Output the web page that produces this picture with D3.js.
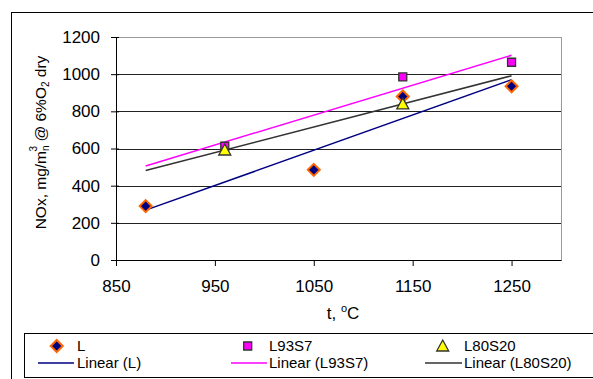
<!DOCTYPE html>
<html>
<head>
<meta charset="utf-8">
<script src="https://cdn.jsdelivr.net/npm/d3@7"></script>
<style>
  body { margin: 0; background: #fff; }
  svg { display: block; font-family: "Liberation Sans", Arial, sans-serif; }
</style>
</head>
<body>
<svg id="drawing_region"></svg>
<script>
// data
const temps_L = [ 880, 1050, 1140, 1250 ];
const nox_L = [ 290, 485, 880, 935 ];
const temps_L93S7 = [ 960, 1140, 1250 ];
const nox_L93S7 = [ 612, 985, 1064 ];
const temps_L80S20 = [ 960, 1140 ];
const nox_L80S20 = [ 592, 840 ];
const trend_range = [ 880, 1250 ];
const x_ticks = [ 850, 950, 1050, 1150, 1250 ];
const y_ticks = [ 0, 200, 400, 600, 800, 1000, 1200 ];

const series = [
    { name: 'L', xs: temps_L, ys: nox_L, marker: 'diamond', fill: '#000080', stroke: '#ff6600', line: '#000080' },
    { name: 'L93S7', xs: temps_L93S7, ys: nox_L93S7, marker: 'square', fill: '#ff00ff', stroke: '#333', line: '#ff00ff' },
    { name: 'L80S20', xs: temps_L80S20, ys: nox_L80S20, marker: 'triangle', fill: '#ffff00', stroke: '#333', line: '#333333' }
];

// least squares fit, like the spreadsheet trendline
function linfit( xs, ys ) {
    const mx = d3.mean( xs ), my = d3.mean( ys );
    const sxy = d3.sum( xs, ( x, i ) => ( x - mx ) * ( ys[i] - my ) );
    const sxx = d3.sum( xs, x => ( x - mx ) * ( x - mx ) );
    const b = sxy / sxx;
    return x => my + b * ( x - mx );
}

const width = 593, height = 379;
const margin = { top: 37, left: 116, right: 32, bottom: 119 };
const inner_width = width - margin.left - margin.right;
const inner_height = height - margin.top - margin.bottom;
const font_size = 17;

const svg = d3.select( '#drawing_region' )
    .attr( 'width', width )
    .attr( 'height', height );

// outer chart border (runs off the right and bottom)
svg.append( 'rect' )
    .attr( 'x', 11.5 ).attr( 'y', 12.5 )
    .attr( 'width', 600 ).attr( 'height', 400 )
    .attr( 'fill', 'none' ).attr( 'stroke', '#000' );

const chart = svg.append( 'g' )
    .attr( 'transform', `translate(${margin.left}, ${margin.top})` );

const xscale = d3.scaleLinear().domain( [ 850, 1300 ] ).range( [ 0, inner_width ] );
const yscale = d3.scaleLinear().domain( [ 0, 1200 ] ).range( [ inner_height, 0 ] );

// plot area frame
chart.append( 'rect' )
    .attr( 'x', 0.5 ).attr( 'y', 0.5 )
    .attr( 'width', inner_width ).attr( 'height', inner_height )
    .attr( 'fill', 'none' ).attr( 'stroke', '#999' );

// gridlines
chart.append( 'g' )
    .selectAll( 'line' )
    .data( y_ticks.filter( d => d > 0 && d < 1200 ) )
    .join( 'line' )
    .attr( 'x1', 0 ).attr( 'x2', inner_width )
    .attr( 'y1', d => Math.round( yscale( d ) ) + 0.5 )
    .attr( 'y2', d => Math.round( yscale( d ) ) + 0.5 )
    .attr( 'stroke', '#222' );

const xaxis = d3.axisBottom( xscale ).tickValues( x_ticks ).tickFormat( d3.format( 'd' ) )
    .tickSize( 6 ).tickSizeOuter( 0 ).tickPadding( 14 );
const yaxis = d3.axisLeft( yscale ).tickValues( y_ticks ).tickFormat( d3.format( 'd' ) )
    .tickSize( 5 ).tickSizeOuter( 0 ).tickPadding( 11 );

const xg = chart.append( 'g' )
    .attr( 'transform', `translate(0, ${inner_height})` )
    .call( xaxis );
const yg = chart.append( 'g' ).call( yaxis );

// value-axis ticks cross the axis line
yg.selectAll( '.tick line' ).attr( 'x1', 3 );

[ xg, yg ].forEach( g => {
    g.select( '.domain' ).attr( 'stroke', '#000' );
    g.selectAll( '.tick line' ).attr( 'stroke', '#000' );
    g.selectAll( 'text' )
        .attr( 'font-size', font_size )
        .attr( 'font-family', '"Liberation Sans", Arial, sans-serif' )
        .attr( 'fill', '#000' );
} );

// trend lines
series.forEach( s => {
    const f = linfit( s.xs, s.ys );
    chart.append( 'line' )
        .attr( 'x1', xscale( trend_range[0] ) ).attr( 'y1', yscale( f( trend_range[0] ) ) )
        .attr( 'x2', xscale( trend_range[1] ) ).attr( 'y2', yscale( f( trend_range[1] ) ) )
        .attr( 'stroke', s.line ).attr( 'stroke-width', 1.5 );
} );

function marker_path( kind ) {
    if ( kind === 'diamond' ) return 'M0,-6L6,0L0,6L-6,0Z';
    if ( kind === 'square' ) return 'M-4,-4H4V4H-4Z';
    return 'M0,-6L6,5L-6,5Z';
}

// markers
series.forEach( s => {
    chart.append( 'g' )
        .selectAll( 'path' )
        .data( s.xs.map( ( x, i ) => ( { x: x, y: s.ys[i] } ) ) )
        .join( 'path' )
        .attr( 'transform', d => `translate(${xscale( d.x )}, ${yscale( d.y )})` )
        .attr( 'd', marker_path( s.marker ) )
        .attr( 'fill', s.fill )
        .attr( 'stroke', s.stroke )
        .attr( 'stroke-width', s.marker === 'diamond' ? 2 : 1.3 );
} );

// axis titles
const xt = svg.append( 'text' )
    .attr( 'x', 343 ).attr( 'y', 319 )
    .attr( 'text-anchor', 'middle' )
    .attr( 'font-size', font_size );
xt.append( 'tspan' ).text( 't, ' );
xt.append( 'tspan' ).attr( 'font-size', 11 ).attr( 'dy', -7 ).text( 'o' );
xt.append( 'tspan' ).attr( 'dy', 7 ).text( 'C' );

const yt = svg.append( 'text' )
    .attr( 'transform', 'translate(46, 142.5) rotate(-90)' )
    .attr( 'text-anchor', 'middle' )
    .attr( 'font-size', 15.5 );
yt.append( 'tspan' ).text( 'NOx, mg/m' );
yt.append( 'tspan' ).attr( 'font-size', 10 ).attr( 'dy', 3 ).text( 'n' );
yt.append( 'tspan' ).attr( 'font-size', 10 ).attr( 'dy', -12 ).attr( 'dx', -6 ).text( '3' );
yt.append( 'tspan' ).attr( 'dy', 9 ).text( ' @ 6%O' );
yt.append( 'tspan' ).attr( 'font-size', 10 ).attr( 'dy', 3 ).text( '2' );
yt.append( 'tspan' ).attr( 'dy', -3 ).text( ' dry' );

// legend
const legend = svg.append( 'g' );
legend.append( 'rect' )
    .attr( 'x', 24.5 ).attr( 'y', 333.5 )
    .attr( 'width', 600 ).attr( 'height', 44 )
    .attr( 'fill', '#fff' ).attr( 'stroke', '#000' );

const legend_cols = [
    { mx: 56.7, lx1: 38, lx2: 74, tx: 77 },
    { mx: 247.7, lx1: 231, lx2: 267, tx: 269 },
    { mx: 442.7, lx1: 425, lx2: 462, tx: 464 }
];

series.forEach( ( s, i ) => {
    const c = legend_cols[i];
    legend.append( 'path' )
        .attr( 'transform', `translate(${c.mx}, 346)` )
        .attr( 'd', marker_path( s.marker ) )
        .attr( 'fill', s.fill )
        .attr( 'stroke', s.stroke )
        .attr( 'stroke-width', s.marker === 'diamond' ? 2 : 1.3 );
    legend.append( 'text' )
        .attr( 'x', c.tx ).attr( 'y', 350.5 )
        .attr( 'font-size', 15 )
        .text( s.name );
    legend.append( 'line' )
        .attr( 'x1', c.lx1 ).attr( 'x2', c.lx2 )
        .attr( 'y1', 363 ).attr( 'y2', 363 )
        .attr( 'stroke', s.line ).attr( 'stroke-width', 1.5 );
    legend.append( 'text' )
        .attr( 'x', c.tx ).attr( 'y', 368 )
        .attr( 'font-size', 15 )
        .text( `Linear (${s.name})` );
} );
</script>
</body>
</html>
